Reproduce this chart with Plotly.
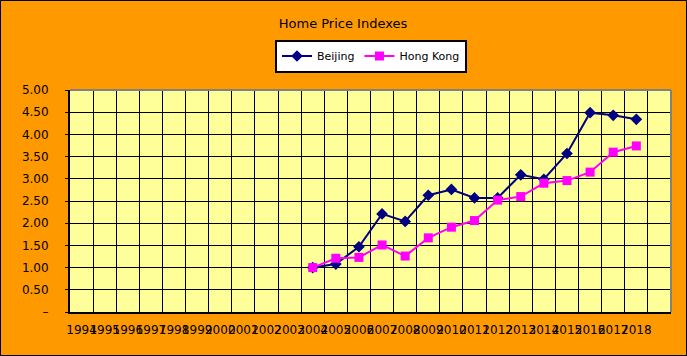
import plotly.graph_objects as go

years = list(range(1994, 2019))
data_years = list(range(2004, 2019))
beijing = [1.00, 1.08, 1.47, 2.21, 2.04, 2.63, 2.76, 2.57, 2.57, 3.09, 2.99, 3.57, 4.49, 4.43, 4.34]
hong_kong = [1.00, 1.21, 1.23, 1.51, 1.26, 1.67, 1.91, 2.06, 2.52, 2.60, 2.90, 2.96, 3.15, 3.60, 3.74]
y_ticks = [0, 0.5, 1.0, 1.5, 2.0, 2.5, 3.0, 3.5, 4.0, 4.5, 5.0]
y_tick_labels = ["–", "0.50", "1.00", "1.50", "2.00", "2.50", "3.00", "3.50", "4.00", "4.50", "5.00"]

W, H = 687, 356
L, R, T, B = 70, 16, 90, 44
pw, ph = W - L - R, H - T - B

font = "DejaVu Sans"

fig = go.Figure()
fig.add_trace(go.Scatter(
    x=data_years, y=beijing, name="Beijing", mode="lines+markers",
    line=dict(color="#000080", width=2),
    marker=dict(symbol="diamond", size=9, color="#000080"),
))
fig.add_trace(go.Scatter(
    x=data_years, y=hong_kong, name="Hong Kong", mode="lines+markers",
    line=dict(color="#FF00FF", width=2),
    marker=dict(symbol="square", size=9, color="#FF00FF"),
))

fig.update_layout(
    width=W, height=H,
    margin=dict(l=L, r=R, t=T, b=B, pad=0),
    paper_bgcolor="#FF9900",
    plot_bgcolor="#FFFF99",
    font=dict(family=font, size=12, color="black"),
    title=dict(text="Home Price Indexes", x=(343 - L) / pw, xref="paper", xanchor="center",
               y=1 - 23 / H, yanchor="middle", yref="container",
               font=dict(family=font, size=13, color="black")),
    showlegend=True,
    legend=dict(orientation="h", x=(371 - L) / pw, xanchor="center",
                y=(H - B - 56) / ph, yanchor="middle",
                bgcolor="white", bordercolor="black", borderwidth=2,
                font=dict(family=font, size=11, color="black"),
                itemwidth=30, tracegroupgap=0),
    xaxis=dict(
        range=[years[0] - 0.5, years[-1] + 1.5],
        tickmode="array", tickvals=years, ticktext=[str(y) for y in years],
        showgrid=False, zeroline=False,
        showline=True, linecolor="black", linewidth=2,
        ticks="", tickangle=0,
        tickfont=dict(family=font, size=12, color="black"),
        ticklabelstandoff=6,
        minor=dict(tickmode="array", tickvals=[y + 0.5 for y in years],
                   showgrid=True, gridcolor="black", gridwidth=1.3, ticks=""),
    ),
    yaxis=dict(
        range=[0, 5], tickmode="array", tickvals=y_ticks, ticktext=y_tick_labels,
        showgrid=True, gridcolor="black", gridwidth=1.3, zeroline=False,
        showline=True, linecolor="black", linewidth=2,
        ticks="outside", ticklen=3, tickcolor="black",
        tickfont=dict(family=font, size=12, color="black"),
        ticklabelstandoff=14,
    ),
    shapes=[
        dict(type="line", xref="paper", yref="paper", x0=0, x1=1, y0=1, y1=1,
             line=dict(color="#808080", width=2), layer="above"),
        dict(type="line", xref="paper", yref="paper", x0=1, x1=1, y0=0, y1=1,
             line=dict(color="#808080", width=2), layer="above"),
        dict(type="rect", xref="paper", yref="paper",
             x0=-(L - 0.5) / pw, x1=1 + (R - 0.5) / pw,
             y0=-(B - 0.5) / ph, y1=1 + (T - 0.5) / ph,
             line=dict(color="black", width=1), layer="above"),
    ],
)

fig.write_html("out.html",
               config={"displayModeBar": False},
               post_script="document.body.style.margin='0';document.body.style.overflow='hidden';")
